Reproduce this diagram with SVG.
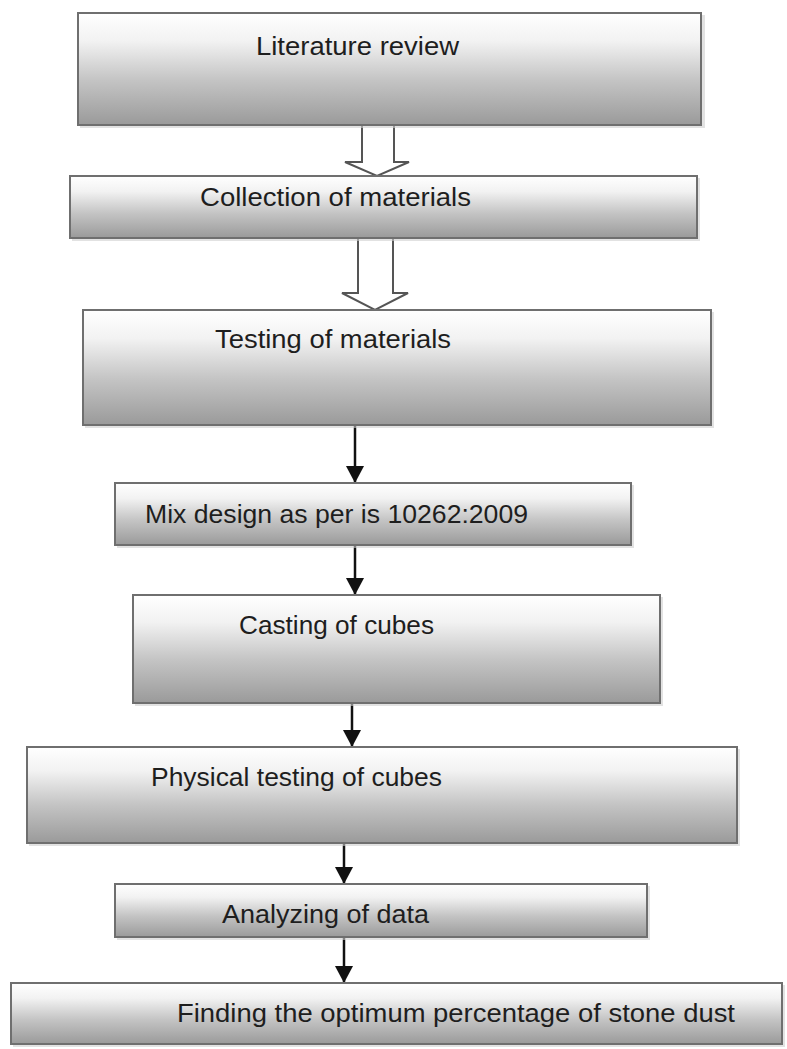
<svg xmlns="http://www.w3.org/2000/svg" width="787" height="1049" viewBox="0 0 787 1049">
<defs>
<linearGradient id="g" x1="0" y1="0" x2="0" y2="1">
<stop offset="0" stop-color="#ffffff"/>
<stop offset="0.25" stop-color="#f2f2f2"/>
<stop offset="0.6" stop-color="#c4c4c4"/>
<stop offset="1" stop-color="#9a9a9a"/>
</linearGradient>
<marker id="ah" markerWidth="18" markerHeight="18" refX="16" refY="9" orient="auto" markerUnits="userSpaceOnUse" viewBox="0 0 18 18">
<path d="M0,0 L17,9 L0,18 Z" fill="#111"/>
</marker>
</defs>
<style>
.box{fill:url(#g);stroke:#6f6f6f;stroke-width:2}
.sh{fill:#cfcfcf;opacity:0.6}
.t{font-family:"Liberation Sans",Arial,sans-serif;font-size:26px;fill:#1e1e1e}
.ho{fill:#ffffff;stroke:#555;stroke-width:2;stroke-linejoin:miter}
.ln{stroke:#111;stroke-width:2.5;fill:none}
</style>
<rect width="787" height="1049" fill="#ffffff"/>
<g id="connectors">
<path class="ho" d="M362,120 L394,120 L394,162 L409,162 L377,176 L345,162 L362,162 Z"/>
<path class="ho" d="M358,238 L393,238 L393,293 L408,293 L375,310 L342,293 L358,293 Z"/>
<path class="ln" d="M355,426 V482" marker-end="url(#ah)"/>
<path class="ln" d="M355,546 V594" marker-end="url(#ah)"/>
<path class="ln" d="M352,704 V746" marker-end="url(#ah)"/>
<path class="ln" d="M344,844 V883" marker-end="url(#ah)"/>
<path class="ln" d="M344,938 V982" marker-end="url(#ah)"/>
</g>
<g id="n1">
<rect class="sh" x="80" y="15" width="625" height="113"/>
<rect class="box" x="78" y="13" width="623" height="112"/>
<text class="t" x="256" y="55" textLength="203" lengthAdjust="spacingAndGlyphs">Literature review</text>
</g>
<g id="n2">
<rect class="sh" x="72" y="178" width="628" height="63"/>
<rect class="box" x="70" y="176" width="627" height="62"/>
<text class="t" x="200" y="206" textLength="271" lengthAdjust="spacingAndGlyphs">Collection of materials</text>
</g>
<g id="n3">
<rect class="sh" x="85" y="312" width="629" height="116"/>
<rect class="box" x="83" y="310" width="628" height="115"/>
<text class="t" x="215" y="348" textLength="236" lengthAdjust="spacingAndGlyphs">Testing of materials</text>
</g>
<g id="n4">
<rect class="sh" x="117" y="485" width="517" height="63"/>
<rect class="box" x="115" y="483" width="516" height="62"/>
<text class="t" x="145" y="523" textLength="383" lengthAdjust="spacingAndGlyphs">Mix design as per is 10262:2009</text>
</g>
<g id="n5">
<rect class="sh" x="135" y="597" width="528" height="109"/>
<rect class="box" x="133" y="595" width="527" height="108"/>
<text class="t" x="239" y="634" textLength="195" lengthAdjust="spacingAndGlyphs">Casting of cubes</text>
</g>
<g id="n6">
<rect class="sh" x="29" y="749" width="711" height="97"/>
<rect class="box" x="27" y="747" width="710" height="96"/>
<text class="t" x="151" y="786" textLength="291" lengthAdjust="spacingAndGlyphs">Physical testing of cubes</text>
</g>
<g id="n7">
<rect class="sh" x="117" y="886" width="533" height="54"/>
<rect class="box" x="115" y="884" width="532" height="53"/>
<text class="t" x="222" y="923" textLength="207" lengthAdjust="spacingAndGlyphs">Analyzing of data</text>
</g>
<g id="n8">
<rect class="sh" x="13" y="985" width="772" height="62"/>
<rect class="box" x="11" y="983" width="771" height="61"/>
<text class="t" x="177" y="1022" textLength="558" lengthAdjust="spacingAndGlyphs">Finding the optimum percentage of stone dust</text>
</g>
</svg>
